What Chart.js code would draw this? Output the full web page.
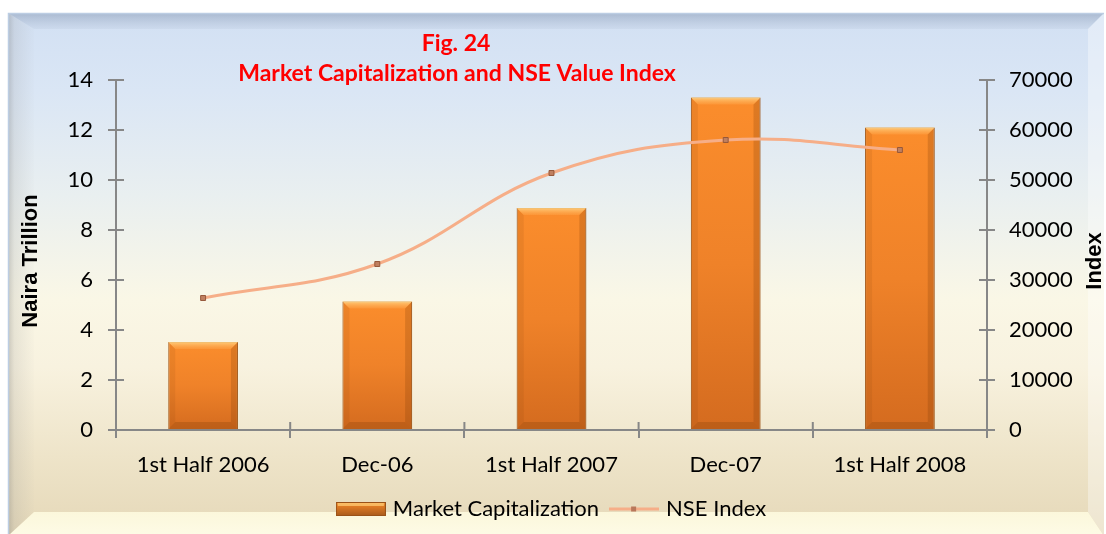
<!DOCTYPE html>
<html>
<head>
<meta charset="utf-8">
<title>Fig. 24 Market Capitalization and NSE Value Index</title>
<script src="https://cdn.jsdelivr.net/npm/chart.js@4.4.1/dist/chart.umd.min.js"></script>
<style>
  html, body { margin: 0; padding: 0; background: #fff; }
  #wrap { width: 1106px; height: 534px; }
</style>
</head>
<body>
<div id="wrap"><canvas id="chart" width="1106" height="534"></canvas></div>
<script>
// data
const categories = ["1st Half 2006", "Dec-06", "1st Half 2007", "Dec-07", "1st Half 2008"];
const marketCap = [3.52, 5.14, 8.88, 13.3, 12.1];      // Naira trillion
const nseIndex = [26400, 33200, 51400, 58000, 56000];  // index points
const leftTicks = [0, 2, 4, 6, 8, 10, 12, 14];
const rightTicks = [0, 10000, 20000, 30000, 40000, 50000, 60000, 70000];
const titleLines = ["Fig. 24", "Market Capitalization and NSE Value Index"];
const leftTitle = "Naira Trillion";
const rightTitle = "Index";

const FONT = "Lato";
const AXIS = "#878787";

// framed, bevelled background
const bgPlugin = {
  id: "bg",
  beforeDraw(chart) {
    const ctx = chart.ctx;
    const W = chart.width, H = chart.height;
    const L = 8, T = 13, R = 1104, B = H + 2;
    const lw = 26, tw = 16, rw = 16, bw = 24;
    ctx.save();
    ctx.fillStyle = "#fff";
    ctx.fillRect(0, 0, W, H);

    let g = ctx.createLinearGradient(0, T, 0, H);
    g.addColorStop(0, "#d2e0f3");
    g.addColorStop(0.15, "#dae6f5");
    g.addColorStop(0.35, "#e9eff0");
    g.addColorStop(0.55, "#faf7e6");
    g.addColorStop(0.68, "#f8f2df");
    g.addColorStop(0.85, "#eee4c9");
    g.addColorStop(1, "#e5d8b8");
    ctx.fillStyle = g;
    ctx.fillRect(L, T, R - L, B - T);

    // top bevel
    ctx.beginPath();
    ctx.moveTo(L, T); ctx.lineTo(R, T); ctx.lineTo(R - rw, T + tw); ctx.lineTo(L + lw, T + tw);
    ctx.closePath();
    g = ctx.createLinearGradient(0, T, 0, T + tw);
    g.addColorStop(0, "rgba(120,138,165,0.45)");
    g.addColorStop(1, "rgba(150,165,190,0.12)");
    ctx.fillStyle = g; ctx.fill();

    // left bevel
    ctx.beginPath();
    ctx.moveTo(L, T); ctx.lineTo(L + lw, T + tw); ctx.lineTo(L + lw, B - bw); ctx.lineTo(L, B);
    ctx.closePath();
    g = ctx.createLinearGradient(L, 0, L + lw, 0);
    g.addColorStop(0, "rgba(110,110,110,0.35)");
    g.addColorStop(0.25, "rgba(150,150,150,0.18)");
    g.addColorStop(1, "rgba(160,160,160,0.02)");
    ctx.fillStyle = g; ctx.fill();

    // right bevel
    ctx.beginPath();
    ctx.moveTo(R, T); ctx.lineTo(R, B); ctx.lineTo(R - rw, B - bw); ctx.lineTo(R - rw, T + tw);
    ctx.closePath();
    ctx.fillStyle = "rgba(255,255,255,0.35)"; ctx.fill();

    // bottom bevel
    ctx.beginPath();
    ctx.moveTo(L, B); ctx.lineTo(L + lw, B - bw); ctx.lineTo(R - rw, B - bw); ctx.lineTo(R, B);
    ctx.closePath();
    g = ctx.createLinearGradient(0, B - bw, 0, B);
    g.addColorStop(0, "rgba(255,252,225,0.85)");
    g.addColorStop(1, "rgba(255,253,232,0.95)");
    ctx.fillStyle = g; ctx.fill();

    // outer edge
    ctx.strokeStyle = "#bccde3";
    ctx.lineWidth = 1.5;
    ctx.beginPath();
    ctx.moveTo(L + 0.5, B); ctx.lineTo(L + 0.5, T + 0.5); ctx.lineTo(R, T + 0.5);
    ctx.stroke();
    ctx.restore();
  }
};

// bevel highlights on each bar, taken from the bar elements
const bevelPlugin = {
  id: "bevel",
  afterDatasetDraw(chart, args) {
    if (args.index !== 0) return;
    const ctx = chart.ctx;
    ctx.save();
    args.meta.data.forEach(el => {
      const p = el.getProps(["x", "y", "base", "width"], true);
      const l = p.x - p.width / 2, r = p.x + p.width / 2, t = p.y, b = p.base;
      const e = 7;
      // top
      ctx.beginPath();
      ctx.moveTo(l, t); ctx.lineTo(r, t); ctx.lineTo(r - e, t + e); ctx.lineTo(l + e, t + e); ctx.closePath();
      let g = ctx.createLinearGradient(0, t, 0, t + e);
      g.addColorStop(0, "rgba(255,210,130,0.9)");
      g.addColorStop(1, "rgba(255,170,80,0.35)");
      ctx.fillStyle = g; ctx.fill();
      // right
      ctx.beginPath();
      ctx.moveTo(r, t); ctx.lineTo(r, b); ctx.lineTo(r - e, b - e); ctx.lineTo(r - e, t + e); ctx.closePath();
      ctx.fillStyle = "rgba(120,55,5,0.22)"; ctx.fill();
      // left
      ctx.beginPath();
      ctx.moveTo(l, t); ctx.lineTo(l + e, t + e); ctx.lineTo(l + e, b - e); ctx.lineTo(l, b); ctx.closePath();
      ctx.fillStyle = "rgba(120,55,5,0.10)"; ctx.fill();
      // bottom
      ctx.beginPath();
      ctx.moveTo(l, b); ctx.lineTo(l + e, b - e); ctx.lineTo(r - e, b - e); ctx.lineTo(r, b); ctx.closePath();
      ctx.fillStyle = "rgba(120,55,5,0.25)"; ctx.fill();
    });
    ctx.restore();
  }
};

// inner half of the crossing tick marks, plus titles
const overlayPlugin = {
  id: "overlay",
  afterDraw(chart) {
    const ctx = chart.ctx;
    const xs = chart.scales.x, yl = chart.scales.y, yr = chart.scales.y1;
    const len = 8;
    ctx.save();
    ctx.strokeStyle = AXIS;
    ctx.lineWidth = 2;
    ctx.beginPath();
    yl.ticks.forEach((t, i) => {
      const py = yl.getPixelForTick(i);
      ctx.moveTo(yl.right, py); ctx.lineTo(yl.right + len, py);
    });
    yr.ticks.forEach((t, i) => {
      const py = yr.getPixelForTick(i);
      ctx.moveTo(yr.left - len, py); ctx.lineTo(yr.left, py);
    });
    const n = categories.length;
    for (let i = 0; i <= n; i++) {
      let px;
      if (i === 0) px = xs.left;
      else if (i === n) px = xs.right;
      else px = (xs.getPixelForTick(i - 1) + xs.getPixelForTick(i)) / 2;
      ctx.moveTo(px, xs.top - len); ctx.lineTo(px, xs.top);
    }
    ctx.stroke();

    // chart title
    ctx.fillStyle = "#ff0000";
    ctx.textAlign = "center";
    ctx.textBaseline = "middle";
    ctx.font = "bold 23px " + FONT;
    ctx.fillText(titleLines[0], 456, 44);
    ctx.fillText(titleLines[1], 457, 74);

    // axis titles, both read bottom to top
    ctx.fillStyle = "#000";
    ctx.font = "bold 22px 'Liberation Sans'";
    ctx.save();
    ctx.translate(31, (yl.top + yl.bottom) / 2 + 6);
    ctx.rotate(-Math.PI / 2);
    ctx.fillText(leftTitle, 0, 0);
    ctx.restore();
    ctx.save();
    ctx.translate(1095, (yr.top + yr.bottom) / 2 + 6);
    ctx.rotate(-Math.PI / 2);
    ctx.fillText(rightTitle, 0, 0);
    ctx.restore();
    ctx.restore();
  }
};

// legend swatches
function barSwatch() {
  const c = document.createElement("canvas");
  c.width = 50; c.height = 14;
  const x = c.getContext("2d");
  const g = x.createLinearGradient(0, 0, 0, 14);
  g.addColorStop(0, "#f7a040");
  g.addColorStop(0.3, "#e07c26");
  g.addColorStop(1, "#a85a1c");
  x.fillStyle = g;
  x.fillRect(0, 0, 50, 14);
  x.strokeStyle = "#9a5218";
  x.strokeRect(0.5, 0.5, 49, 13);
  x.fillStyle = "rgba(255,205,120,0.7)";
  x.fillRect(2, 1, 46, 3);
  return c;
}
function lineSwatch() {
  const c = document.createElement("canvas");
  c.width = 50; c.height = 14;
  const x = c.getContext("2d");
  x.strokeStyle = "#f6ae88";
  x.lineWidth = 3;
  x.beginPath(); x.moveTo(0, 7); x.lineTo(50, 7); x.stroke();
  x.fillStyle = "#b9785a";
  x.fillRect(22, 4.5, 5, 5);
  return c;
}
const swatches = [barSwatch(), lineSwatch()];

function barFill(context) {
  const chart = context.chart;
  if (!chart.chartArea) return "#f08427";
  const ys = chart.scales.y;
  const top = ys.getPixelForValue(context.raw);
  const bottom = ys.getPixelForValue(0);
  if (!isFinite(top) || top === bottom) return "#f08427";
  const g = chart.ctx.createLinearGradient(0, top, 0, bottom);
  g.addColorStop(0, "#fb8d2c");
  g.addColorStop(0.5, "#ef8229");
  g.addColorStop(1, "#d46b1f");
  return g;
}

const tickFont = { family: FONT, size: 22 };

new Chart(document.getElementById("chart"), {
  type: "bar",
  data: {
    labels: categories,
    datasets: [
      {
        type: "bar",
        label: "Market Capitalization",
        data: marketCap,
        yAxisID: "y",
        order: 2,
        backgroundColor: barFill,
        borderColor: "#a95a17",
        borderWidth: 1,
        barPercentage: 0.4,
        categoryPercentage: 1
      },
      {
        type: "line",
        label: "NSE Index",
        data: nseIndex,
        yAxisID: "y1",
        order: 1,
        borderColor: "#f6ae88",
        borderWidth: 3,
        tension: 0.4,
        pointStyle: "rect",
        pointRadius: 3.5,
        pointBackgroundColor: "#c08060",
        pointBorderColor: "#96583a",
        pointBorderWidth: 1
      }
    ]
  },
  options: {
    responsive: false,
    animation: false,
    layout: { padding: { top: 80, left: 0, right: 0, bottom: 4 } },
    plugins: {
      title: { display: false },
      tooltip: { enabled: false },
      legend: {
        position: "bottom",
        labels: {
          font: tickFont,
          color: "#000",
          usePointStyle: true,
          pointStyleWidth: 42,
          boxHeight: 14,
          padding: 14,
          generateLabels: () => [
            { text: "Market Capitalization", pointStyle: swatches[0], datasetIndex: 0, fontColor: "#000", lineWidth: 0 },
            { text: "NSE Index", pointStyle: swatches[1], datasetIndex: 1, fontColor: "#000", lineWidth: 0 }
          ]
        }
      }
    },
    scales: {
      x: {
        offset: true,
        afterFit: s => { s.height = 54; },
        grid: { offset: true, drawOnChartArea: false, color: AXIS, lineWidth: 2, tickLength: 8 },
        border: { color: AXIS, width: 2 },
        ticks: { font: tickFont, color: "#000", padding: 14, maxRotation: 0 }
      },
      y: {
        position: "left",
        min: 0,
        max: 14,
        afterFit: s => { s.width = 116; },
        afterBuildTicks: s => { s.ticks = leftTicks.map(v => ({ value: v })); },
        grid: { drawOnChartArea: false, color: AXIS, lineWidth: 2, tickLength: 8 },
        border: { color: AXIS, width: 2 },
        ticks: { font: tickFont, color: "#000", padding: 15, callback: v => String(v) }
      },
      y1: {
        position: "right",
        min: 0,
        max: 70000,
        afterFit: s => { s.width = 119; },
        afterBuildTicks: s => { s.ticks = rightTicks.map(v => ({ value: v })); },
        grid: { drawOnChartArea: false, color: AXIS, lineWidth: 2, tickLength: 8 },
        border: { color: AXIS, width: 2 },
        ticks: { font: tickFont, color: "#000", padding: 14, callback: v => String(v) }
      }
    }
  },
  plugins: [bgPlugin, bevelPlugin, overlayPlugin]
});
</script>
</body>
</html>
